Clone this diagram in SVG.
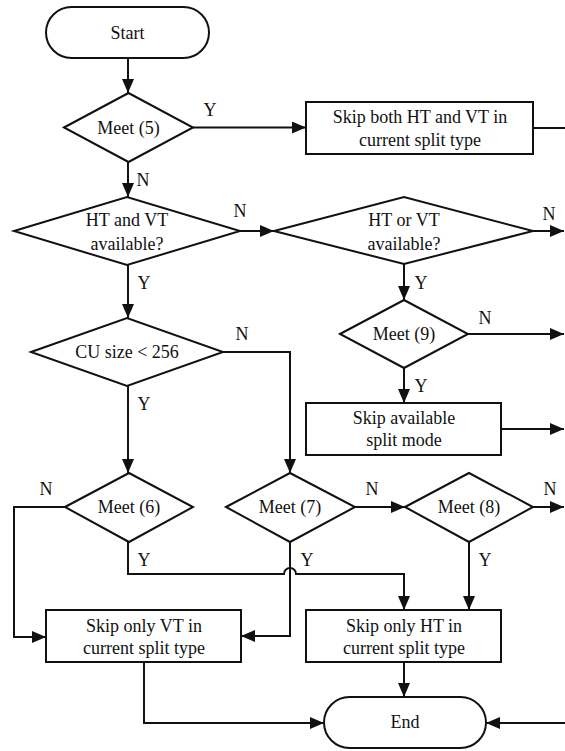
<svg xmlns="http://www.w3.org/2000/svg" width="565" height="751" viewBox="0 0 565 751">
<style>
.s{fill:#fff;stroke:#111;stroke-width:2}
.c{fill:none;stroke:#111;stroke-width:2}
text{font-family:"Liberation Serif","Times New Roman",serif;font-size:18px;fill:#111}
.m{text-anchor:middle}
</style>
<defs>
<marker id="a" markerUnits="userSpaceOnUse" markerWidth="14" markerHeight="12" refX="14" refY="6" orient="auto">
<path d="M0,0 L14,6 L0,12 z" fill="#111"/>
</marker>
</defs>
<rect width="565" height="751" fill="#fff"/>
<g id="connectors">
<path class="c" d="M128,58 V93" marker-end="url(#a)"/>
<path class="c" d="M193,127.5 H306" marker-end="url(#a)"/>
<path class="c" d="M533,128 H565"/>
<path class="c" d="M128,162 V197" marker-end="url(#a)"/>
<path class="c" d="M240,231 H274" marker-end="url(#a)"/>
<path class="c" d="M533,231 H564" marker-end="url(#a)"/>
<path class="c" d="M128,265 V318" marker-end="url(#a)"/>
<path class="c" d="M404,264 V300" marker-end="url(#a)"/>
<path class="c" d="M223,352 H290 V473" marker-end="url(#a)"/>
<path class="c" d="M128,386 V473" marker-end="url(#a)"/>
<path class="c" d="M468,334 H564" marker-end="url(#a)"/>
<path class="c" d="M404,368 V403" marker-end="url(#a)"/>
<path class="c" d="M501,429 H564" marker-end="url(#a)"/>
<path class="c" d="M65,507 H14 V637 H46" marker-end="url(#a)"/>
<path class="c" d="M355,507 H405" marker-end="url(#a)"/>
<path class="c" d="M533,507 H564" marker-end="url(#a)"/>
<path class="c" d="M128,542 V574 H284 A6,6 0 0 1 296,574 H404 V610" marker-end="url(#a)"/>
<path class="c" d="M290,542 V636 H241" marker-end="url(#a)"/>
<path class="c" d="M469,542 V610" marker-end="url(#a)"/>
<path class="c" d="M144,662 V723 H324" marker-end="url(#a)"/>
<path class="c" d="M404,662 V697" marker-end="url(#a)"/>
<path class="c" d="M565,723 H486" marker-end="url(#a)"/>
</g>
<g id="start"><rect class="s" x="46" y="7" width="163" height="51" rx="25.5"/><text class="m" x="127.5" y="38.5">Start</text></g>
<g id="meet5"><polygon class="s" points="64,127.5 128.5,93 193,127.5 128.5,162"/><text class="m" x="128.5" y="133.5">Meet (5)</text></g>
<g id="skipboth"><rect class="s" x="306" y="102" width="227" height="52"/><text class="m" x="420" y="123">Skip both HT and VT in</text><text class="m" x="420" y="146">current split type</text></g>
<g id="htandvt"><polygon class="s" points="14,231 127,197 240,231 127,265"/><text class="m" x="127" y="226">HT and VT</text><text class="m" x="127" y="250">available?</text></g>
<g id="htorvt"><polygon class="s" points="274,231 404,197 533,231 404,264"/><text class="m" x="404" y="226">HT or VT</text><text class="m" x="404" y="250">available?</text></g>
<g id="cusize"><polygon class="s" points="31,352 127,318 223,352 127,386"/><text class="m" x="127" y="358">CU size &lt; 256</text></g>
<g id="meet9"><polygon class="s" points="340,334 404,300 468,334 404,368"/><text class="m" x="404" y="339.5">Meet (9)</text></g>
<g id="skipavail"><rect class="s" x="306" y="403" width="195" height="52"/><text class="m" x="404" y="423.5">Skip available</text><text class="m" x="404" y="446">split mode</text></g>
<g id="meet6"><polygon class="s" points="65,507 129,473 193,507 129,542"/><text class="m" x="129" y="512.5">Meet (6)</text></g>
<g id="meet7"><polygon class="s" points="226,507 290,473 355,507 290,542"/><text class="m" x="290" y="512.5">Meet (7)</text></g>
<g id="meet8"><polygon class="s" points="405,507 469,473 533,507 469,542"/><text class="m" x="469" y="512.5">Meet (8)</text></g>
<g id="skipvt"><rect class="s" x="46" y="610" width="195" height="52"/><text class="m" x="144" y="632">Skip only VT in</text><text class="m" x="144" y="654">current split type</text></g>
<g id="skipht"><rect class="s" x="306" y="610" width="195" height="52"/><text class="m" x="404" y="632">Skip only HT in</text><text class="m" x="404" y="654">current split type</text></g>
<g id="end"><rect class="s" x="324" y="697" width="162" height="51" rx="25.5"/><text class="m" x="405" y="728">End</text></g>
<g id="labels">
<text class="m" x="210" y="116">Y</text>
<text class="m" x="143" y="186">N</text>
<text class="m" x="240" y="217">N</text>
<text class="m" x="549" y="220">N</text>
<text class="m" x="144" y="289">Y</text>
<text class="m" x="421" y="289">Y</text>
<text class="m" x="485" y="324">N</text>
<text class="m" x="242" y="340">N</text>
<text class="m" x="144" y="410">Y</text>
<text class="m" x="421" y="392">Y</text>
<text class="m" x="46" y="495">N</text>
<text class="m" x="372" y="495">N</text>
<text class="m" x="550" y="495">N</text>
<text class="m" x="144" y="566">Y</text>
<text class="m" x="307" y="566">Y</text>
<text class="m" x="485" y="566">Y</text>
</g>
</svg>
